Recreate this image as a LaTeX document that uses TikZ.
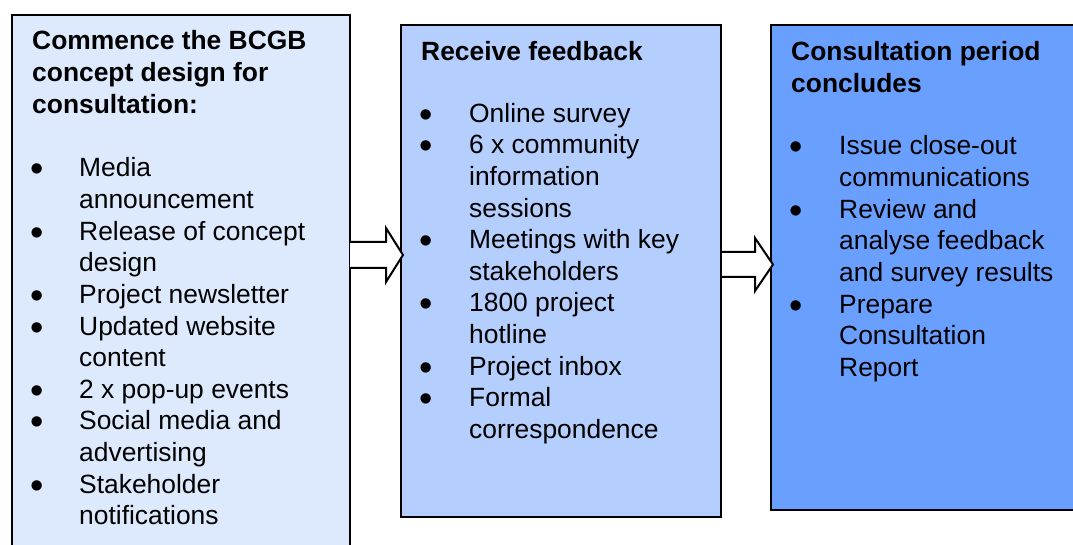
\documentclass[tikz,border=0pt]{standalone}
\usepackage{fontspec}
\setmainfont{Liberation Sans}
\usetikzlibrary{calc}
\definecolor{fillA}{RGB}{221,234,253}
\definecolor{fillB}{RGB}{180,206,253}
\definecolor{fillC}{RGB}{105,160,255}
\begin{document}
\begin{tikzpicture}[x=1pt,y=-1pt,
  boxshape/.style={draw=black,line width=2pt,inner sep=0pt,anchor=north west},
  txt/.style={anchor=base west,inner sep=0pt,font=\fontsize{26.4}{31.6}\selectfont},
  ttl/.style={txt,font=\fontsize{26.4}{31.6}\selectfont\bfseries},
  bul/.style={anchor=base,inner sep=0pt,yshift=-5pt,font=\fontsize{38}{38}\selectfont},
  blockarrow/.style={draw=black,line width=2pt,fill=white,line join=miter}]
\useasboundingbox (0,0) rectangle (1073,545);
% boxes
\node[boxshape,fill=fillA,minimum width=338pt,minimum height=546pt] (boxA) at (11,14) {};
\node[boxshape,fill=fillB,minimum width=320pt,minimum height=492pt] (boxB) at (400,24) {};
\node[boxshape,fill=fillC,minimum width=320pt,minimum height=485pt] (boxC) at (770,24) {};
% box A text
\node[ttl] (tA) at (32,50) {\vtop{\hbox{Commence the BCGB}\hbox{concept design for}\hbox{consultation:}}};
\node[bul] (bA1) at (37,177) {•};
\node[txt] (iA1) at (79,177) {\vtop{\hbox{Media}\hbox{announcement}}};
\node[bul] (bA2) at (37,240.2) {•};
\node[txt] (iA2) at (79,240.2) {\vtop{\hbox{Release of concept}\hbox{design}}};
\node[bul] (bA3) at (37,303.4) {•};
\node[txt] (iA3) at (79,303.4) {Project newsletter};
\node[bul] (bA4) at (37,335) {•};
\node[txt] (iA4) at (79,335) {\vtop{\hbox{Updated website}\hbox{content}}};
\node[bul] (bA5) at (37,398.2) {•};
\node[txt] (iA5) at (79,398.2) {2 x pop-up events};
\node[bul] (bA6) at (37,429.8) {•};
\node[txt] (iA6) at (79,429.8) {\vtop{\hbox{Social media and}\hbox{advertising}}};
\node[bul] (bA7) at (37,493) {•};
\node[txt] (iA7) at (79,493) {\vtop{\hbox{Stakeholder}\hbox{notifications}}};
% box B text
\node[ttl] (tB) at (421,61) {Receive feedback};
\node[bul] (bB1) at (426,122.3) {•};
\node[txt] (iB1) at (469,122.3) {Online survey};
\node[bul] (bB2) at (426,153.9) {•};
\node[txt] (iB2) at (469,153.9) {\vtop{\hbox{6 x community}\hbox{information}\hbox{sessions}}};
\node[bul] (bB3) at (426,248.7) {•};
\node[txt] (iB3) at (469,248.7) {\vtop{\hbox{Meetings with key}\hbox{stakeholders}}};
\node[bul] (bB4) at (426,311.9) {•};
\node[txt] (iB4) at (469,311.9) {\vtop{\hbox{1800 project}\hbox{hotline}}};
\node[bul] (bB5) at (426,375.1) {•};
\node[txt] (iB5) at (469,375.1) {Project inbox};
\node[bul] (bB6) at (426,406.7) {•};
\node[txt] (iB6) at (469,406.7) {\vtop{\hbox{Formal}\hbox{correspondence}}};
% box C text
\node[ttl] (tC) at (791,61) {\vtop{\hbox{Consultation period}\hbox{concludes}}};
\node[bul] (bC1) at (796,155) {•};
\node[txt] (iC1) at (839,155) {\vtop{\hbox{Issue close-out}\hbox{communications}}};
\node[bul] (bC2) at (796,218.2) {•};
\node[txt] (iC2) at (839,218.2) {\vtop{\hbox{Review and}\hbox{analyse feedback}\hbox{and survey results}}};
\node[bul] (bC3) at (796,313) {•};
\node[txt] (iC3) at (839,313) {\vtop{\hbox{Prepare}\hbox{Consultation}\hbox{Report}}};
% block arrows
\coordinate (a1) at (boxA.east |- 0,255);
\coordinate (a2) at (boxB.east |- 0,264.5);
\draw[blockarrow] ($(a1)+(-1,-13)$) -- ($(a1)+(35,-13)$) -- ($(a1)+(35,-27)$) -- ($(a1)+(52,0)$)
  -- ($(a1)+(35,27)$) -- ($(a1)+(35,13)$) -- ($(a1)+(-1,13)$);
\draw[blockarrow] ($(a2)+(0,-12.5)$) -- ($(a2)+(33,-12.5)$) -- ($(a2)+(33,-26.5)$) -- ($(a2)+(51,0)$)
  -- ($(a2)+(33,26.5)$) -- ($(a2)+(33,12.5)$) -- ($(a2)+(0,12.5)$);
\end{tikzpicture}
\end{document}
